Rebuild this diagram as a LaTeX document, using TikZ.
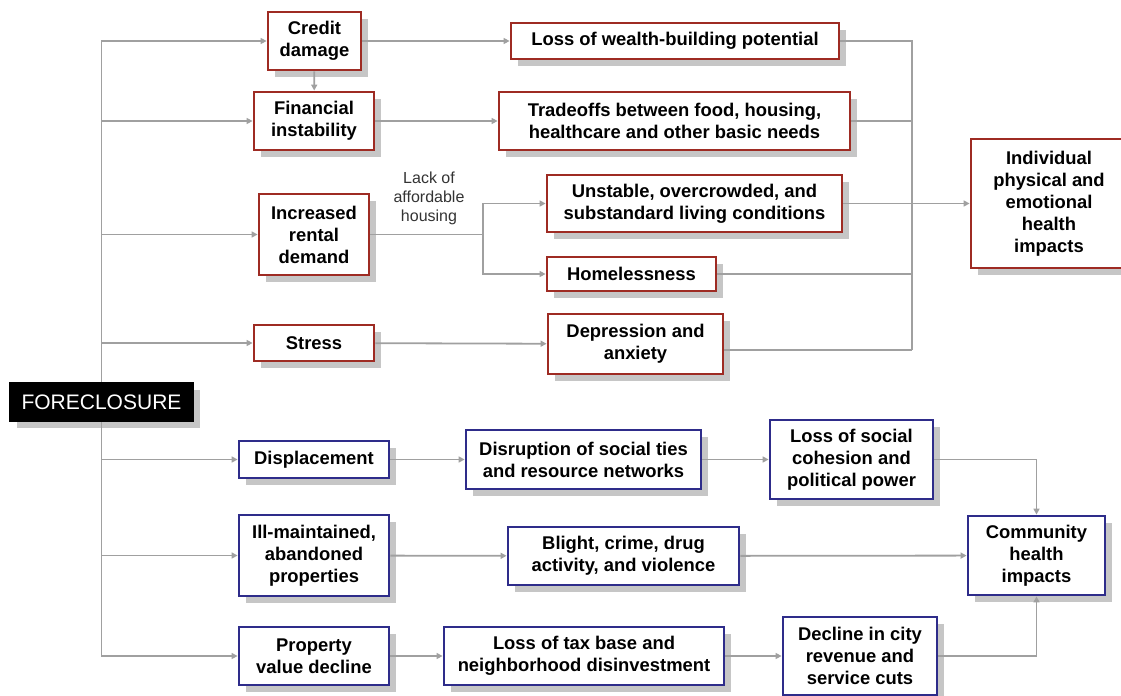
\documentclass[tikz,border=0pt]{standalone}
\usepackage{fontspec}
\setsansfont{Liberation Sans}
\usetikzlibrary{arrows.meta}
\usetikzlibrary{shadows}
\definecolor{boxred}{HTML}{9E2B23}
\definecolor{boxblue}{HTML}{2E2C8A}
\definecolor{linegray}{HTML}{A0A0A0}
\definecolor{shadegray}{HTML}{C6C6C6}

\begin{document}
\begin{tikzpicture}[x = 0.5pt, y = -0.5pt, font=\sffamily\bfseries\fontsize{9.2}{11}\selectfont]
	\tikzstyle{baseStyle}=[shape = rectangle, inner sep = 0pt, align = center, fill = white, line width = 1.4pt, drop shadow = {shadow xshift = 3.5pt, shadow yshift = -3.5pt, fill = shadegray, opacity = 1}]
	\tikzstyle{redStyle}=[baseStyle, draw = boxred]
	\tikzstyle{blueStyle}=[baseStyle, draw = boxblue]
	\tikzstyle{rootStyle}=[baseStyle, fill = black, draw = black, text = white, font = \sffamily\mdseries\fontsize{10.5}{12}\selectfont]
	\tikzstyle{labelStyle}=[align = center, text = black!80, font = \sffamily\mdseries\fontsize{8}{9.5}\selectfont]
	\tikzstyle{plainStyle}=[draw = linegray, line width = 0.9pt]
	\tikzstyle{linkStyle}=[plainStyle, -{Triangle[length = 3pt, width = 3pt]}]
	\useasboundingbox (0, 0) rectangle (1121, 696);
	\node[rootStyle, minimum width = 91.5pt, minimum height = 19pt] (root) at (101.5, 402) {FORECLOSURE};
	\node[redStyle, minimum width = 46.5pt, minimum height = 29pt] (credit) at (314.5, 41) {Credit\\damage};
	\node[redStyle, minimum width = 60pt, minimum height = 29pt] (fin) at (314, 121) {Financial\\instability};
	\node[redStyle, minimum width = 55pt, minimum height = 40.5pt] (rent) at (314, 234.5) {Increased\\rental\\demand};
	\node[redStyle, minimum width = 60pt, minimum height = 18pt] (stress) at (314, 343) {Stress};
	\node[redStyle, minimum width = 164pt, minimum height = 18pt] (wealth) at (675, 41) {Loss of wealth-building potential};
	\node[redStyle, minimum width = 175.5pt, minimum height = 29pt] (trade) at (674.5, 121) {Tradeoffs between food, housing,\\healthcare and other basic needs};
	\node[redStyle, minimum width = 147.5pt, minimum height = 28.5pt] (unst) at (694.5, 203.5) {Unstable, overcrowded, and\\substandard living conditions};
	\node[redStyle, minimum width = 84.5pt, minimum height = 17pt] (homeless) at (631.5, 274) {Homelessness};
	\node[redStyle, minimum width = 87.5pt, minimum height = 30pt] (dep) at (635.5, 344) {Depression and\\anxiety};
	\node[redStyle, minimum width = 78pt, minimum height = 64.5pt] (indiv) at (1049, 203.5) {Individual\\physical and\\emotional\\health\\impacts};
	\node[labelStyle] (lack) at (429, 198) {Lack of\\affordable\\housing};
	\node[blueStyle, minimum width = 75pt, minimum height = 18.5pt] (displ) at (314, 459.5) {Displacement};
	\node[blueStyle, minimum width = 75pt, minimum height = 40.5pt] (ill) at (314, 555.5) {Ill-maintained,\\abandoned\\properties};
	\node[blueStyle, minimum width = 75pt, minimum height = 29pt] (prop) at (314, 656) {Property\\value decline};
	\node[blueStyle, minimum width = 117.5pt, minimum height = 29.5pt] (disr) at (583.5, 459.5) {Disruption of social ties\\and resource networks};
	\node[blueStyle, minimum width = 115.5pt, minimum height = 29pt] (blight) at (623.5, 556) {Blight, crime, drug\\activity, and violence};
	\node[blueStyle, minimum width = 140pt, minimum height = 29pt] (tax) at (584, 656) {Loss of tax base and\\neighborhood disinvestment};
	\node[blueStyle, minimum width = 81.5pt, minimum height = 39.5pt] (social) at (851.5, 459.5) {Loss of social\\cohesion and\\political power};
	\node[blueStyle, minimum width = 77pt, minimum height = 39pt] (decline) at (860, 656) {Decline in city\\revenue and\\service cuts};
	\node[blueStyle, minimum width = 68.5pt, minimum height = 39.5pt] (comm) at (1036.5, 555.5) {Community\\health\\impacts};
	\coordinate (split) at (483, 234.5);
	\coordinate (col) at (912, 350);

	\draw[linkStyle] (root.north) |- (credit);
	\draw[linkStyle] (root.north) |- (fin);
	\draw[linkStyle] (root.north) |- (rent);
	\draw[linkStyle] (root.north) |- (stress);
	\draw[linkStyle] (root.south) |- (displ);
	\draw[linkStyle] (root.south) |- (ill);
	\draw[linkStyle] (root.south) |- (prop);
	\draw[linkStyle] (credit) -- (fin);
	\draw[linkStyle] (credit) -- (wealth);
	\draw[linkStyle] (fin) -- (trade);
	\draw[plainStyle] (rent) -- (split);
	\draw[linkStyle] (split) |- (unst);
	\draw[linkStyle] (split) |- (homeless);
	\draw[linkStyle] (stress) -- (dep);
	\draw[plainStyle] (wealth) -| (col);
	\draw[plainStyle] (trade) -| (col);
	\draw[plainStyle] (homeless) -| (col);
	\draw[plainStyle] (dep.east |- col) -- (col);
	\draw[linkStyle] (unst) -- (indiv);
	\draw[linkStyle] (displ) -- (disr);
	\draw[linkStyle] (disr) -- (social);
	\draw[linkStyle] (social) -| (comm);
	\draw[linkStyle] (ill) -- (blight);
	\draw[linkStyle] (blight) -- (comm);
	\draw[linkStyle] (prop) -- (tax);
	\draw[linkStyle] (tax) -- (decline);
	\draw[linkStyle] (decline) -| (comm);
\end{tikzpicture}
\end{document}
